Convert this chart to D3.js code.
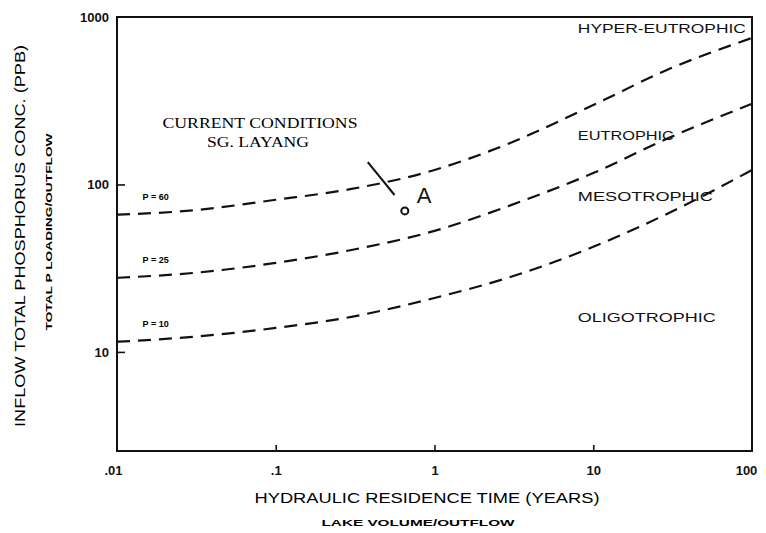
<!DOCTYPE html>
<html lang="en">
<head>
<meta charset="UTF-8">
<title>Phosphorus loading vs residence time</title>
<script src="https://d3js.org/d3.v7.min.js"></script>
<style>
  body { margin: 0; background: #fff; }
  svg { display: block; }
  .tick text { font-family: "Liberation Sans", Arial, sans-serif; font-size: 13px; font-weight: bold; fill: #111; }
  .tick line { stroke: #111; stroke-width: 1.6; }
  .zone { font-family: "Liberation Sans", Arial, sans-serif; font-size: 13px; fill: #111; }
  .curve { fill: none; stroke: #111; stroke-width: 2.2; stroke-dasharray: 13 8; }
</style>
</head>
<body>
<svg width="766" height="533"></svg>
<script>
// residence time (years) where each curve was read
const tau = [0.01, 0.03, 0.1, 0.3, 1, 3, 10, 30, 100];
// inflow total P (ppb)
const p60 = [66, 70, 81, 94, 122, 177, 298, 489, 750];
const p25 = [27.7, 29.6, 34, 40.6, 52.8, 75, 117, 190, 303];
const p10 = [11.5, 12.3, 13.9, 16.2, 21, 28, 42.4, 67.6, 122];
const curveLabels = ["P = 60", "P = 25", "P = 10"];
const xTicks = [0.01, 0.1, 1, 10, 100];
const xTickLabels = [".01", ".1", "1", "10", "100"];
const yTicks = [10, 100, 1000];
const zones = ["HYPER-EUTROPHIC", "EUTROPHIC", "MESOTROPHIC", "OLIGOTROPHIC"];
const zoneP = [802, 184, 79.6, 15.1];
const pointA = { tau: 0.65, p: 69.5 };

const svg = d3.select("svg");
const plot = { left: 117, right: 752, top: 17, bottom: 451 };

const x = d3.scaleLog().domain([0.01, 100]).range([plot.left, plot.right]);
const y = d3.scaleLog().domain([2.56, 1000]).range([plot.bottom, plot.top]);

// axes with inward ticks
const xAxis = svg.append("g")
    .attr("transform", `translate(0,${plot.bottom})`)
    .call(d3.axisBottom(x).tickValues(xTicks)
        .tickFormat((d, i) => xTickLabels[i])
        .tickSizeInner(-6).tickSizeOuter(0).tickPadding(15));
xAxis.select(".domain").remove();
xAxis.selectAll(".tick line").filter(d => d === 0.01 || d === 100).remove();
xAxis.selectAll(".tick text").filter(d => d === 100).attr("dx", -6);
xAxis.selectAll(".tick text").filter(d => d === 0.01).attr("dx", -4);

const yAxis = svg.append("g")
    .attr("transform", `translate(${plot.left},0)`)
    .call(d3.axisLeft(y).tickValues(yTicks)
        .tickFormat(d3.format("d"))
        .tickSizeInner(-8).tickSizeOuter(0).tickPadding(8));
yAxis.select(".domain").remove();
yAxis.selectAll(".tick line").filter(d => d === 1000).remove();

// frame
svg.append("rect")
    .attr("x", plot.left).attr("y", plot.top)
    .attr("width", plot.right - plot.left).attr("height", plot.bottom - plot.top)
    .attr("fill", "none").attr("stroke", "#111").attr("stroke-width", 2);

// dashed curves
const line = d3.line()
    .x(d => x(d[0]))
    .y(d => y(d[1]))
    .curve(d3.curveMonotoneX);

[p60, p25, p10].forEach((series, i) => {
    svg.append("path")
        .attr("class", "curve")
        .attr("d", line(tau.map((t, j) => [t, series[j]])));
    svg.append("text")
        .attr("x", x(0.0145))
        .attr("y", y(series[0]) - 15)
        .attr("font-family", "Liberation Sans, Arial, sans-serif")
        .attr("font-size", 9)
        .attr("font-weight", "bold")
        .text(curveLabels[i]);
});

// zone labels
zones.forEach((z, i) => {
    svg.append("text")
        .attr("class", "zone")
        .attr("x", x(8))
        .attr("y", y(zoneP[i]))
        .attr("textLength", [168, 96, 135, 138][i])
        .attr("lengthAdjust", "spacingAndGlyphs")
        .text(z);
});

// current conditions annotation
svg.append("text")
    .attr("x", 260).attr("y", 128)
    .attr("text-anchor", "middle")
    .attr("font-family", "Liberation Serif, Times New Roman, serif")
    .attr("font-size", 14)
    .attr("textLength", 195).attr("lengthAdjust", "spacingAndGlyphs")
    .text("CURRENT CONDITIONS");
svg.append("text")
    .attr("x", 258).attr("y", 147)
    .attr("text-anchor", "middle")
    .attr("font-family", "Liberation Serif, Times New Roman, serif")
    .attr("font-size", 14)
    .attr("textLength", 102).attr("lengthAdjust", "spacingAndGlyphs")
    .text("SG. LAYANG");

svg.append("line")
    .attr("x1", x(0.38)).attr("y1", y(136))
    .attr("x2", x(0.56)).attr("y2", y(86.5))
    .attr("stroke", "#111").attr("stroke-width", 2);

svg.append("circle")
    .attr("cx", x(pointA.tau)).attr("cy", y(pointA.p))
    .attr("r", 3.5)
    .attr("fill", "#fff").attr("stroke", "#111").attr("stroke-width", 2);
svg.append("text")
    .attr("x", x(pointA.tau) + 12).attr("y", y(pointA.p) - 8)
    .attr("font-family", "Liberation Sans, Arial, sans-serif")
    .attr("font-size", 22)
    .attr("fill", "#111")
    .text("A");

// axis titles
svg.append("text")
    .attr("x", 427).attr("y", 503)
    .attr("text-anchor", "middle")
    .attr("font-family", "Liberation Sans, Arial, sans-serif")
    .attr("font-size", 14)
    .attr("textLength", 345).attr("lengthAdjust", "spacingAndGlyphs")
    .text("HYDRAULIC RESIDENCE TIME (YEARS)");
svg.append("text")
    .attr("x", 418).attr("y", 526)
    .attr("text-anchor", "middle")
    .attr("font-family", "Liberation Sans, Arial, sans-serif")
    .attr("font-size", 9).attr("font-weight", "bold")
    .attr("textLength", 193).attr("lengthAdjust", "spacingAndGlyphs")
    .text("LAKE VOLUME/OUTFLOW");

svg.append("text")
    .attr("transform", "translate(25,236) rotate(-90)")
    .attr("text-anchor", "middle")
    .attr("font-family", "Liberation Sans, Arial, sans-serif")
    .attr("font-size", 14)
    .attr("textLength", 382).attr("lengthAdjust", "spacingAndGlyphs")
    .text("INFLOW TOTAL PHOSPHORUS CONC. (PPB)");
svg.append("text")
    .attr("transform", "translate(52,232) rotate(-90)")
    .attr("text-anchor", "middle")
    .attr("font-family", "Liberation Sans, Arial, sans-serif")
    .attr("font-size", 9).attr("font-weight", "bold")
    .attr("textLength", 197).attr("lengthAdjust", "spacingAndGlyphs")
    .text("TOTAL P LOADING/OUTFLOW");
</script>
</body>
</html>
